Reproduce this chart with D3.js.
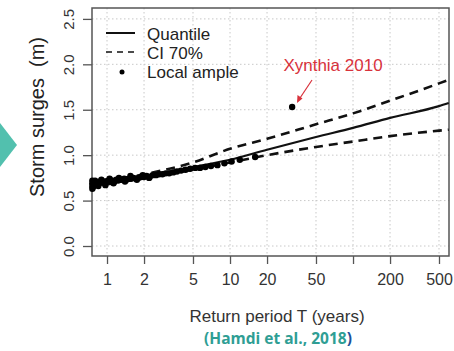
<!DOCTYPE html>
<html>
<head>
<meta charset="utf-8">
<script src="https://cdn.jsdelivr.net/npm/d3@7"></script>
<style>
  body { margin: 0; background: #fff; }
  svg { display: block; font-family: "Liberation Sans", Arial, sans-serif; }
</style>
</head>
<body>
<svg id="chart" width="454" height="351"></svg>
<script>
// return period ticks (100 has a tick but no label)
const xTicks = [1, 2, 5, 10, 20, 50, 100, 200, 500];
const xTickLabels = ["1", "2", "5", "10", "20", "50", "", "200", "500"];
const yTicks = [0, 0.5, 1, 1.5, 2, 2.5];
const yTickLabels = ["0.0", "0.5", "1.0", "1.5", "2.0", "2.5"];

// fitted quantile and 70% confidence band
const fitT = [0.76, 1, 2, 5, 10, 20, 50, 100, 200, 500, 600];
const quantile = [0.68, 0.70, 0.77, 0.87, 0.95, 1.06, 1.20, 1.30, 1.41, 1.54, 1.575];
const ciUpper = [0.70, 0.72, 0.79, 0.92, 1.07, 1.18, 1.34, 1.46, 1.60, 1.79, 1.83];
const ciLower = [0.66, 0.68, 0.75, 0.84, 0.92, 1.00, 1.09, 1.15, 1.21, 1.27, 1.28];

// local sample (empirical return periods)
const sampleT = [0.76, 0.76, 0.76, 0.76, 0.77, 0.78, 0.79, 0.8, 0.81, 0.82, 0.83, 0.84, 0.86, 0.88, 0.9,
  0.92, 0.94, 0.96, 0.99, 1.02, 1.05, 1.08, 1.11, 1.15, 1.19, 1.23, 1.28, 1.33, 1.38, 1.44, 1.5,
  1.57, 1.64, 1.72, 1.8, 1.9, 2.0, 2.1, 2.22, 2.35, 2.5, 2.65, 2.82, 3.0, 3.2, 3.45, 3.7, 4.0,
  4.35, 4.75, 5.2, 5.7, 6.3, 7.0, 7.9, 9.0, 10.3, 12, 16, 32,
  0.8, 0.85, 0.9, 0.97, 1.05, 1.13, 1.25, 1.4, 1.55, 1.75, 1.95, 2.2];
const sampleV = [0.63, 0.66, 0.69, 0.72, 0.65, 0.68, 0.70, 0.67, 0.69, 0.70, 0.68, 0.70, 0.69, 0.71, 0.70,
  0.70, 0.71, 0.70, 0.71, 0.72, 0.71, 0.72, 0.72, 0.71, 0.73, 0.72, 0.73, 0.73, 0.74, 0.73, 0.74,
  0.74, 0.75, 0.74, 0.75, 0.76, 0.76, 0.77, 0.76, 0.78, 0.78, 0.79, 0.79, 0.80, 0.80, 0.81, 0.82, 0.83,
  0.84, 0.85, 0.86, 0.86, 0.87, 0.88, 0.89, 0.91, 0.93, 0.95, 0.98, 1.53,
  0.72, 0.66, 0.73, 0.67, 0.74, 0.69, 0.75, 0.71, 0.77, 0.73, 0.78, 0.75];

const svg = d3.select("#chart");
const mLeft = 92, mRight = 449, mTop = 8, mBottom = 256;

const x = d3.scaleLog().domain([0.755, 603]).range([mLeft, mRight]);
const y = d3.scaleLinear().domain([-0.11, 2.62]).range([mBottom, mTop]);

// teal arrow mark on the left edge
svg.append("path")
    .attr("d", "M0,123 L17,145 L0,167 Z")
    .attr("fill", "#52c0ae");

// dotted grid
svg.append("g").selectAll("line")
    .data(xTicks)
    .enter().append("line")
    .attr("x1", d => x(d)).attr("x2", d => x(d))
    .attr("y1", mTop).attr("y2", mBottom)
    .attr("stroke", "#c8c8c8").attr("stroke-dasharray", "1.5,2.5");
svg.append("g").selectAll("line")
    .data(yTicks)
    .enter().append("line")
    .attr("x1", mLeft).attr("x2", mRight)
    .attr("y1", d => y(d)).attr("y2", d => y(d))
    .attr("stroke", "#c8c8c8").attr("stroke-dasharray", "1.5,2.5");

// axes
const xAxis = d3.axisBottom(x).tickValues(xTicks)
    .tickFormat((d, i) => xTickLabels[i]).tickSize(8).tickPadding(10);
const gx = svg.append("g").attr("transform", `translate(0,${mBottom})`).call(xAxis);
gx.select(".domain").remove();
gx.selectAll("line").attr("stroke", "#555").attr("stroke-width", 1.3);
gx.selectAll("text").attr("font-size", 16).attr("fill", "#333")
    .attr("font-family", "Liberation Sans, Arial, sans-serif");

const yAxis = d3.axisLeft(y).tickValues(yTicks)
    .tickFormat((d, i) => yTickLabels[i]).tickSize(9);
const gy = svg.append("g").attr("transform", `translate(${mLeft},0)`).call(yAxis);
gy.select(".domain").remove();
gy.selectAll("line").attr("stroke", "#555").attr("stroke-width", 1.3);
gy.selectAll("text")
    .attr("font-size", 15).attr("fill", "#333")
    .attr("font-family", "Liberation Sans, Arial, sans-serif")
    .attr("text-anchor", "middle")
    .attr("x", 0).attr("y", 0).attr("dy", "0.35em")
    .attr("transform", "translate(-23,0) rotate(-90)");

// plot box
svg.append("rect")
    .attr("x", mLeft).attr("y", mTop)
    .attr("width", mRight - mLeft).attr("height", mBottom - mTop)
    .attr("fill", "none").attr("stroke", "#555").attr("stroke-width", 1.5);

const line = d3.line().x(d => x(d[0])).y(d => y(d[1])).curve(d3.curveMonotoneX);

svg.append("path")
    .datum(fitT.map((t, i) => [t, ciUpper[i]]))
    .attr("d", line).attr("fill", "none")
    .attr("stroke", "#111").attr("stroke-width", 2.6).attr("stroke-dasharray", "9,6");
svg.append("path")
    .datum(fitT.map((t, i) => [t, ciLower[i]]))
    .attr("d", line).attr("fill", "none")
    .attr("stroke", "#111").attr("stroke-width", 2.6).attr("stroke-dasharray", "9,6");
svg.append("path")
    .datum(fitT.map((t, i) => [t, quantile[i]]))
    .attr("d", line).attr("fill", "none")
    .attr("stroke", "#111").attr("stroke-width", 2.2);

svg.append("g").selectAll("circle")
    .data(sampleT.map((t, i) => [t, sampleV[i]]))
    .enter().append("circle")
    .attr("cx", d => x(d[0]))
    .attr("cy", d => y(d[1]))
    .attr("r", 3.2)
    .attr("fill", "#000");

// Xynthia annotation
svg.append("text")
    .attr("x", 333).attr("y", 71)
    .attr("text-anchor", "middle")
    .attr("font-size", 17)
    .attr("fill", "#d8323c")
    .text("Xynthia 2010");
svg.append("line")
    .attr("x1", 312).attr("y1", 80).attr("x2", 298).attr("y2", 101)
    .attr("stroke", "#d8323c").attr("stroke-width", 1.2);
svg.append("path")
    .attr("d", "M297,103 L297.5,95 L302.5,98.5 Z")
    .attr("fill", "#d8323c");

// legend
const legend = svg.append("g").attr("font-size", 17).attr("fill", "#222");
legend.append("line").attr("x1", 106).attr("x2", 135).attr("y1", 33).attr("y2", 33)
    .attr("stroke", "#111").attr("stroke-width", 2);
legend.append("text").attr("x", 147).attr("y", 40).text("Quantile");
legend.append("line").attr("x1", 106).attr("x2", 135).attr("y1", 52).attr("y2", 52)
    .attr("stroke", "#111").attr("stroke-width", 1.6).attr("stroke-dasharray", "6,5");
legend.append("text").attr("x", 147).attr("y", 59).text("CI 70%");
legend.append("circle").attr("cx", 122).attr("cy", 72).attr("r", 2.5).attr("fill", "#000");
legend.append("text").attr("x", 147).attr("y", 78).text("Local ample");

// axis titles
svg.append("text")
    .attr("transform", "translate(44,117) rotate(-90)")
    .attr("text-anchor", "middle")
    .attr("font-size", 20).attr("fill", "#222")
    .attr("xml:space", "preserve")
    .text("Storm surges  (m)");
svg.append("text")
    .attr("x", 277).attr("y", 322)
    .attr("text-anchor", "middle")
    .attr("font-size", 17).attr("fill", "#333")
    .text("Return period T (years)");

const cite = svg.append("text")
    .attr("x", 278).attr("y", 344)
    .attr("text-anchor", "middle")
    .attr("font-family", "Open Sans, sans-serif")
    .attr("font-weight", "bold")
    .attr("font-size", 15.5);
cite.append("tspan").attr("fill", "#2f9e94").text("(Hamdi et al., 2018");
cite.append("tspan").attr("fill", "#1f4f9a").text(")");
</script>
</body>
</html>
